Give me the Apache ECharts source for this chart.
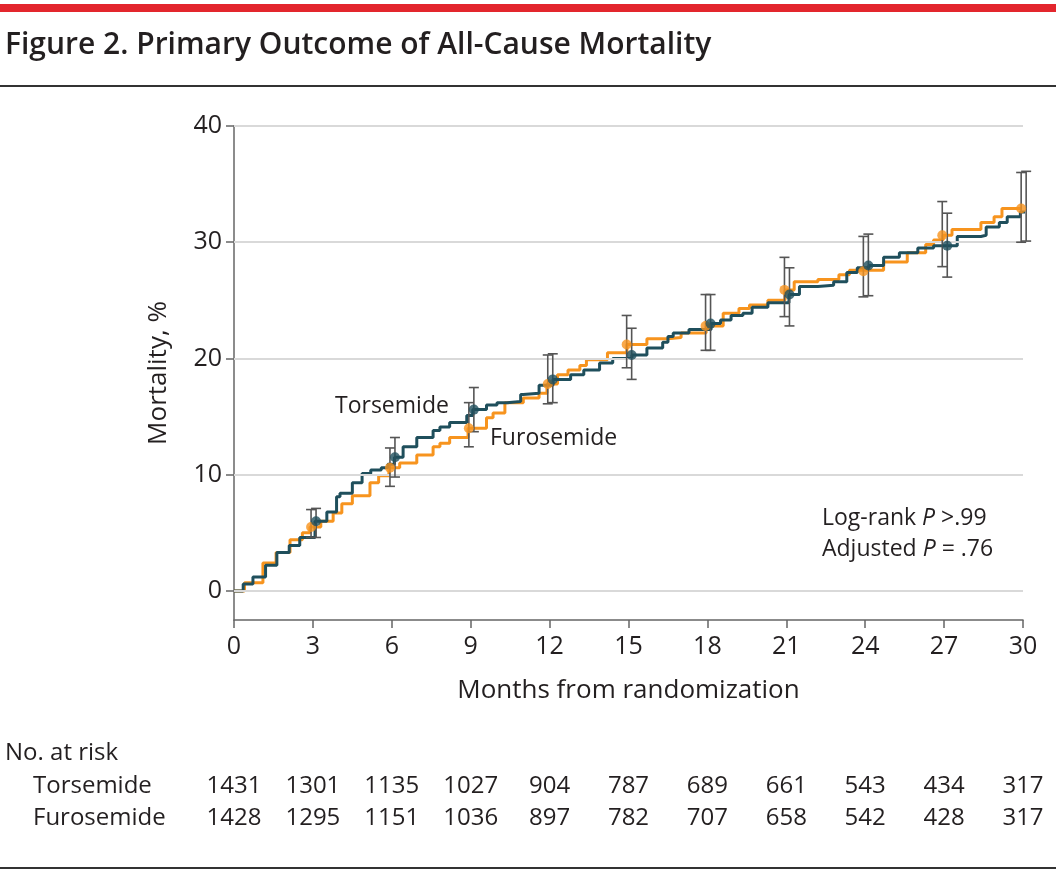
<!DOCTYPE html>
<html>
<head>
<meta charset="utf-8">
<script src="https://cdn.jsdelivr.net/npm/echarts@6/dist/echarts.min.js"></script>
<style>
html,body{margin:0;padding:0;background:#fff;}
#c{width:1056px;height:876px;}
</style>
</head>
<body>
<div id="c"></div>
<script>
// ---------- DATA ----------
const title = 'Figure 2. Primary Outcome of All-Cause Mortality';
const xTicks = [0, 3, 6, 9, 12, 15, 18, 21, 24, 27, 30];
const yTicks = [0, 10, 20, 30, 40];
const groupNames = ['Torsemide', 'Furosemide'];

// Kaplan-Meier style cumulative mortality (months, %)
const torsemideCurve = [
  [0,0],[0.35,0.6],[0.72,1.2],[1.2,2.2],[1.63,3.3],[2.1,3.9],[2.5,4.6],[3.08,6.0],[3.53,6.8],[3.9,8.1],
  [4.03,8.4],[4.5,9.3],[4.87,10.1],[5.2,10.4],[5.6,10.6],[5.85,10.9],[6.1,11.5],[6.43,12.4],[6.95,13.2],
  [7.57,13.8],[7.83,14.1],[8.2,14.5],[8.85,15.1],[9.08,15.6],[9.6,16.0],[10.0,16.2],[10.38,16.3],[10.9,16.9],
  [11.0,17.0],[11.6,17.7],[12.13,18.2],[12.8,18.6],[13.3,19.0],[13.9,19.6],[14.4,20.0],[15.13,20.3],[15.7,20.9],
  [16.3,21.4],[16.5,21.9],[16.7,22.2],[17.3,22.5],[18.14,23.0],[18.5,23.3],[18.9,23.7],[19.35,23.9],[19.7,24.4],
  [20.3,24.8],[21.1,25.5],[21.5,26.2],[22.2,26.3],[22.8,26.6],[23.3,27.4],[23.7,27.8],[24.14,28.0],[24.7,28.7],
  [25.3,29.1],[26.0,29.5],[26.6,29.7],[27.15,29.7],[27.5,30.5],[28.4,30.6],[28.6,31.3],[29.1,31.7],[29.4,32.2],
  [29.9,32.6],[30.15,33.1]
];
const furosemideCurve = [
  [0,0],[0.4,0.7],[1.1,2.4],[1.6,3.3],[2.13,4.4],[2.6,5.0],[2.89,5.5],[3.3,6.0],[3.77,6.7],[4.1,7.5],
  [4.5,8.2],[5.17,9.3],[5.5,9.9],[5.89,10.6],[6.3,11.0],[6.95,11.7],[7.57,12.4],[7.83,12.7],[8.2,13.2],
  [8.9,14.0],[9.6,14.9],[9.85,15.3],[10.3,16.2],[11.0,16.6],[11.6,17.0],[11.9,17.8],[12.3,18.6],[12.7,19.0],
  [13.15,19.4],[13.4,19.9],[14.2,20.5],[14.94,21.2],[15.7,21.7],[16.5,21.8],[17.0,22.2],[17.95,22.8],[18.6,23.9],
  [19.2,24.3],[19.6,24.6],[20.3,25.0],[20.95,25.9],[21.3,26.6],[22.2,26.8],[23.0,27.2],[23.4,27.6],[23.92,27.6],
  [24.7,28.3],[25.6,29.1],[26.3,29.8],[26.6,30.2],[26.96,30.6],[27.3,31.1],[28.1,31.1],[28.4,31.7],[28.9,32.2],
  [29.2,32.9],[29.92,32.9]
];

// estimates with 95% CI at 3-month marks
const ciTimes = [3, 6, 9, 12, 15, 18, 21, 24, 27, 30];
const torsemideEst   = [6.0, 11.5, 15.6, 18.2, 20.3, 23.0, 25.5, 28.0, 29.7, 33.1];
const torsemideLow   = [4.6, 9.8, 13.7, 16.2, 18.2, 20.7, 22.8, 25.4, 27.0, 30.1];
const torsemideHigh  = [7.1, 13.2, 17.5, 20.4, 22.6, 25.5, 27.8, 30.7, 32.5, 36.1];
const furosemideEst  = [5.5, 10.6, 14.0, 17.8, 21.2, 22.8, 25.9, 27.5, 30.6, 32.9];
const furosemideLow  = [4.6, 9.0, 12.4, 16.1, 19.2, 20.7, 23.6, 25.3, 27.9, 30.0];
const furosemideHigh = [7.0, 12.3, 16.2, 20.3, 23.7, 25.5, 28.7, 30.5, 33.5, 36.0];

// number at risk
const atRiskTorsemide  = [1431, 1301, 1135, 1027, 904, 787, 689, 661, 543, 434, 317];
const atRiskFurosemide = [1428, 1295, 1151, 1036, 897, 782, 707, 658, 542, 428, 317];

// ---------- STYLE ----------
const TEAL = '#1f4f5c';
const ORANGE = '#f7941e';
const FONT = '"Open Sans", "Noto Sans", sans-serif';
const TEXT = '#231f20';
const dodgeT = 0.12, dodgeF = -0.07;

const chart = echarts.init(document.getElementById('c'), null, {renderer: 'canvas'});

function ciData(est, lo, hi, dodge) {
  return ciTimes.map((t, i) => [t + dodge, lo[i], hi[i], est[i]]);
}
function errRender(params, api) {
  const x = api.value(0);
  const p1 = api.coord([x, api.value(1)]);
  const p2 = api.coord([x, api.value(2)]);
  const w = 5;
  const st = {stroke: '#555', lineWidth: 1.6};
  return {type: 'group', children: [
    {type: 'line', shape: {x1: p1[0], y1: p1[1], x2: p2[0], y2: p2[1]}, style: st},
    {type: 'line', shape: {x1: p1[0]-w, y1: p1[1], x2: p1[0]+w, y2: p1[1]}, style: st},
    {type: 'line', shape: {x1: p2[0]-w, y1: p2[1], x2: p2[0]+w, y2: p2[1]}, style: st}
  ]};
}

const option = {
  animation: false,
  backgroundColor: '#fff',
  grid: {left: 234, right: 33, top: 126, bottom: 256, containLabel: false, outerBoundsMode: 'none'},
  xAxis: {
    type: 'value', min: 0, max: 30, interval: 3,
    axisLine: {show: true, onZero: false, lineStyle: {color: '#666', width: 1.5}},
    axisTick: {show: true, inside: false, length: 8, lineStyle: {color: '#666', width: 1.5}},
    axisLabel: {fontFamily: FONT, fontSize: 25, color: TEXT, margin: 14},
    splitLine: {show: false},
    name: 'Months from randomization', nameLocation: 'middle', nameGap: 58,
    nameTextStyle: {fontFamily: FONT, fontSize: 26, color: TEXT}
  },
  yAxis: {
    type: 'value', min: -2.5, max: 40,
    axisLine: {show: true, lineStyle: {color: '#666', width: 1.5}},
    axisTick: {show: true, inside: false, length: 8, customValues: yTicks, lineStyle: {color: '#666', width: 1.5}},
    axisLabel: {fontFamily: FONT, fontSize: 25, color: TEXT, margin: 12, customValues: yTicks},
    splitLine: {show: false},
    name: 'Mortality, %', nameLocation: 'middle', nameGap: 62, nameRotate: 90,
    nameTextStyle: {fontFamily: FONT, fontSize: 26, color: TEXT}
  },
  series: [
    {
      type: 'line', data: [], silent: true, z: 1,
      markLine: {
        silent: true, symbol: 'none', label: {show: false},
        lineStyle: {color: '#d9d9d9', width: 2, type: 'solid'},
        data: yTicks.map(v => ({yAxis: v}))
      }
    },
    {name: groupNames[1], type: 'line', step: 'end', data: furosemideCurve, showSymbol: false, z: 3,
     lineStyle: {color: ORANGE, width: 3}, itemStyle: {color: ORANGE}},
    {name: groupNames[0], type: 'line', step: 'end', data: torsemideCurve, showSymbol: false, z: 4,
     lineStyle: {color: TEAL, width: 3}, itemStyle: {color: TEAL}},
    {type: 'custom', renderItem: errRender, data: ciData(furosemideEst, furosemideLow, furosemideHigh, dodgeF), z: 5, silent: true},
    {type: 'custom', renderItem: errRender, data: ciData(torsemideEst, torsemideLow, torsemideHigh, dodgeT), z: 5, silent: true},
    {type: 'scatter', data: ciTimes.map((t, i) => [t + dodgeF, furosemideEst[i]]), symbolSize: 10, z: 6,
     itemStyle: {color: ORANGE}},
    {type: 'scatter', data: ciTimes.map((t, i) => [t + dodgeT, torsemideEst[i]]), symbolSize: 10, z: 6,
     itemStyle: {color: TEAL}}
  ]
};
chart.setOption(option);

// ---------- annotations & at-risk table ----------
const g = [];
g.push({type: 'rect', shape: {x: 0, y: 4, width: 1056, height: 8}, style: {fill: '#e3262d'}});
g.push({type: 'text', x: 5, y: 45, style: {text: title, font: '600 30px "Open Sans", sans-serif', fill: TEXT, verticalAlign: 'middle'}});
g.push({type: 'rect', shape: {x: 0, y: 85, width: 1056, height: 2}, style: {fill: '#333'}});
g.push({type: 'rect', shape: {x: 0, y: 867, width: 1056, height: 2}, style: {fill: '#333'}});

g.push({type: 'text', x: 335, y: 406, style: {text: groupNames[0], font: '23px ' + FONT, fill: TEXT, verticalAlign: 'middle'}});
g.push({type: 'text', x: 490, y: 438, style: {text: groupNames[1], font: '23px ' + FONT, fill: TEXT, verticalAlign: 'middle'}});

g.push({type: 'text', x: 822, y: 518, style: {
  text: '{n|Log-rank }{i|P}{n| >.99}', verticalAlign: 'middle',
  rich: {n: {font: '23px ' + FONT, fill: TEXT}, i: {font: 'italic 23px ' + FONT, fill: TEXT}}}});
g.push({type: 'text', x: 822, y: 549, style: {
  text: '{n|Adjusted }{i|P}{n| = .76}', verticalAlign: 'middle',
  rich: {n: {font: '23px ' + FONT, fill: TEXT}, i: {font: 'italic 23px ' + FONT, fill: TEXT}}}});

g.push({type: 'text', x: 5, y: 753, style: {text: 'No. at risk', font: '24px ' + FONT, fill: TEXT, verticalAlign: 'middle'}});
g.push({type: 'text', x: 33, y: 786, style: {text: groupNames[0], font: '24px ' + FONT, fill: TEXT, verticalAlign: 'middle'}});
g.push({type: 'text', x: 33, y: 818, style: {text: groupNames[1], font: '24px ' + FONT, fill: TEXT, verticalAlign: 'middle'}});
xTicks.forEach((t, i) => {
  const px = chart.convertToPixel({xAxisIndex: 0}, t);
  g.push({type: 'text', x: px, y: 786, style: {text: String(atRiskTorsemide[i]), font: '24px ' + FONT, fill: TEXT, align: 'center', verticalAlign: 'middle'}});
  g.push({type: 'text', x: px, y: 818, style: {text: String(atRiskFurosemide[i]), font: '24px ' + FONT, fill: TEXT, align: 'center', verticalAlign: 'middle'}});
});
chart.setOption({graphic: g});
</script>
</body>
</html>
